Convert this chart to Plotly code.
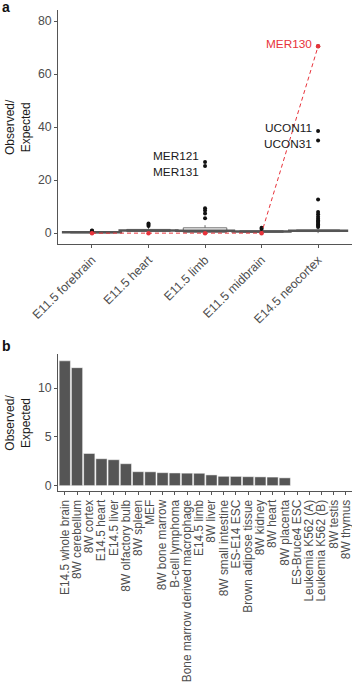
import plotly.graph_objects as go

# ---------------- Panel a data ----------------
tissues_a = ["E11.5 forebrain", "E11.5 heart", "E11.5 limb", "E11.5 midbrain", "E14.5 neocortex"]
q1 = [0.1, 0.6, 0.3, 0.3, 0.6]
median = [0.3, 1.0, 0.9, 0.6, 0.9]
q3 = [0.5, 1.4, 2.0, 0.9, 1.2]
lowerfence = [0.0, 0.0, 0.0, 0.0, 0.0]
upperfence = [0.8, 2.4, 3.0, 1.4, 1.8]
outliers = {
    "E11.5 forebrain": [0.9, 1.0],
    "E11.5 heart": [2.7, 3.2, 3.6],
    "E11.5 limb": [5.6, 7.4, 8.5, 9.4, 25.3, 26.8],
    "E11.5 midbrain": [1.6, 2.0],
    "E14.5 neocortex": [2.3, 2.8, 3.3, 3.8, 4.3, 4.8, 5.4, 6.2, 7.1, 8.0, 12.7, 35.0, 38.5, 70.5],
}
mer130 = [0.0, 0.0, 0.0, 0.0, 70.5]
labels_a = [
    ("MER121", "E11.5 limb", 29.0, "#1a1a1a"),
    ("MER131", "E11.5 limb", 23.1, "#1a1a1a"),
    ("UCON11", "E14.5 neocortex", 39.6, "#1a1a1a"),
    ("UCON31", "E14.5 neocortex", 33.6, "#1a1a1a"),
    ("MER130", "E14.5 neocortex", 71.2, "#e8333b"),
]

# ---------------- Panel b data ----------------
tissues_b = ["E14.5 whole brain", "8W cerebellum", "8W cortex", "E14.5 heart", "E14.5 liver",
             "8W olfactory bulb", "8W spleen", "MEF", "8W bone marrow", "B-cell lymphoma",
             "Bone marrow derived macrophage", "E14.5 limb", "8W liver", "8W small intestine",
             "ES-E14 ESC", "Brown adipose tissue", "8W kidney", "8W heart", "8W placenta",
             "ES-Bruce4 ESC", "Leukemia K562 (A)", "Leukemia K562 (B)", "8W testis", "8W thymus"]
values_b = [12.8, 12.1, 3.3, 2.76, 2.66, 2.25, 1.43, 1.42, 1.33, 1.3, 1.28, 1.27, 1.1,
            0.96, 0.95, 0.92, 0.9, 0.88, 0.8, 0, 0, 0, 0, 0]

FONT = "Liberation Sans, Arial, Helvetica, sans-serif"
TICKC = "#4d4d4d"
RED = "#e8333b"

fig = go.Figure()

# box plots (panel a)
fig.add_trace(go.Box(
    x=tissues_a, q1=q1, median=median, q3=q3,
    lowerfence=lowerfence, upperfence=upperfence,
    boxpoints=False, width=0.77, whiskerwidth=0,
    line=dict(color="#6b6b6b", width=1), fillcolor="white",
    xaxis="x", yaxis="y", showlegend=False, hoverinfo="skip"))

# thick median lines
fig.add_trace(go.Scatter(
    x=tissues_a, y=median, mode="markers",
    marker=dict(symbol="line-ew", size=43, line=dict(color="#555555", width=2.5)),
    xaxis="x", yaxis="y", showlegend=False, hoverinfo="skip"))

# outliers
ox, oy = [], []
for t in tissues_a:
    for v in outliers[t]:
        ox.append(t)
        oy.append(v)
fig.add_trace(go.Scatter(
    x=ox, y=oy, mode="markers", marker=dict(color="#111111", size=4),
    xaxis="x", yaxis="y", showlegend=False, hoverinfo="skip"))

# MER130 red dashed line
fig.add_trace(go.Scatter(
    x=tissues_a, y=mer130, mode="lines+markers",
    line=dict(color=RED, width=1, dash="4px,3px"),
    marker=dict(color=RED, size=4.5),
    xaxis="x", yaxis="y", showlegend=False, hoverinfo="skip"))

# bars (panel b)
fig.add_trace(go.Bar(
    x=tissues_b, y=values_b, marker=dict(color="#555555", line=dict(color="white", width=0.5)),
    xaxis="x2", yaxis="y2", showlegend=False, hoverinfo="skip"))

annotations = []
for txt, cat, yv, col in labels_a:
    annotations.append(dict(x=cat, y=yv, xref="x", yref="y", text=txt, showarrow=False,
                            xanchor="right", yanchor="middle", xshift=-4,
                            font=dict(family=FONT, size=11.8, color=col)))

# y titles and panel letters
annotations += [
    dict(x=0.0, y=0.8146, xref="paper", yref="paper", text="Observed/<br>Expected",
         textangle=-90, showarrow=False, xanchor="left", yanchor="middle", xshift=1,
         font=dict(family=FONT, size=12, color="#1a1a1a")),
    dict(x=0.0, y=0.383, xref="paper", yref="paper", text="Observed/<br>Expected",
         textangle=-90, showarrow=False, xanchor="left", yanchor="middle", xshift=1,
         font=dict(family=FONT, size=12, color="#1a1a1a")),
    dict(x=0.0, y=1.0, xref="paper", yref="paper", text="<b>a</b>", showarrow=False,
         xanchor="left", yanchor="top", xshift=0, yshift=3,
         font=dict(family=FONT, size=14, color="#111111")),
    dict(x=0.0, y=0.5095, xref="paper", yref="paper", text="<b>b</b>", showarrow=False,
         xanchor="left", yanchor="top", xshift=0,
         font=dict(family=FONT, size=14, color="#111111")),
]

axis_common = dict(showline=True, linecolor="#555555", linewidth=1, ticks="outside",
                   ticklen=3, tickcolor="#555555", showgrid=False, zeroline=False,
                   automargin=False)
tf_big = dict(family=FONT, size=12.3, color=TICKC)
tf_b = dict(family=FONT, size=11.9, color=TICKC)

fig.update_layout(
    width=352, height=685, margin=dict(l=0, r=0, t=0, b=0),
    paper_bgcolor="white", plot_bgcolor="white",
    font=dict(family=FONT),
    bargap=0.08,
    xaxis=dict(domain=[0.165, 1.0], anchor="y", type="category", range=[-0.6, 4.6],
               tickangle=-45, tickmode="array", tickvals=tissues_a, tickfont=tf_big,
               **axis_common),
    yaxis=dict(domain=[0.6438, 0.9854], anchor="x", range=[-4.1, 84.2],
               tickvals=[0, 20, 40, 60, 80], tickfont=tf_big, **axis_common),
    xaxis2=dict(domain=[0.165, 1.0], anchor="y2", type="category", range=[-0.55, 23.5],
                tickangle=-90, tickmode="array", tickvals=tissues_b, tickfont=tf_b,
                **axis_common),
    yaxis2=dict(domain=[0.2832, 0.4832], anchor="x2", range=[-0.55, 13.5],
                tickvals=[0, 5, 10], tickfont=tf_big, **axis_common),
    annotations=annotations,
)

fig.write_html("out.html", config={"displayModeBar": False},
               post_script="document.body.style.margin='0';document.body.style.overflow='hidden';")
